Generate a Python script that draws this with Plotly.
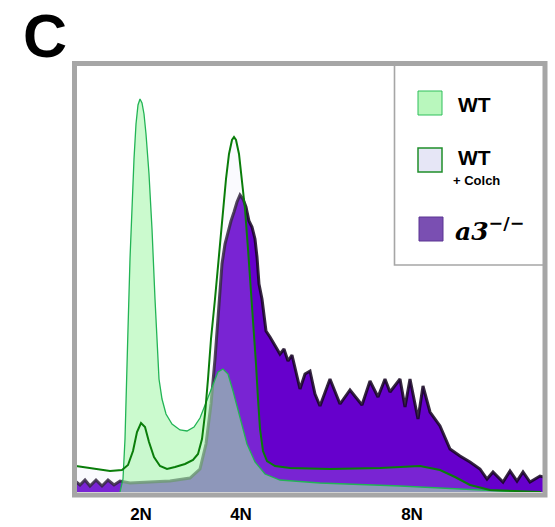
import plotly.graph_objects as go

# ---- data (channel = DNA content a.u., counts = cells) ----
wt_x = [46, 49, 51, 53, 54, 56, 58, 60, 62, 64, 66, 68, 70, 72, 75, 78, 81, 83, 85, 88, 92, 98, 106, 113, 120, 126, 133, 139, 144, 149, 154, 159, 166, 173, 181, 191, 206, 246, 326, 386, 426, 446]
wt_y = [0, 13, 53, 113, 163, 233, 293, 333, 368, 387, 393, 389, 378, 358, 318, 263, 193, 148, 113, 93, 78, 68, 62, 61, 65, 74, 92, 109, 120, 123, 118, 101, 73, 48, 30, 18, 12, 9, 6, 3, 1, 0]

colch_x = [2, 21, 36, 48, 54, 59, 63, 67, 71, 75, 80, 86, 93, 101, 111, 119, 124, 128, 131, 134, 137, 141, 145, 149, 152, 155, 158, 160, 162, 165, 168, 171, 174, 177, 180, 182, 184, 186, 189, 193, 201, 216, 256, 306, 346, 366, 381, 396, 416, 436, 467]
colch_y = [26, 23, 21, 22, 27, 41, 60, 69, 65, 50, 35, 26, 23, 25, 28, 32, 38, 53, 78, 113, 153, 193, 238, 283, 313, 338, 352, 355, 352, 338, 313, 283, 243, 203, 163, 128, 93, 63, 41, 31, 26, 24, 23, 24, 26, 22, 15, 7, 2, 1, 0]

a3_x = [1, 6, 11, 16, 22, 28, 34, 40, 46, 56, 76, 96, 116, 126, 132, 137, 141, 144, 146, 148, 151, 154, 157, 160, 163, 166, 169, 172, 175, 178, 181, 183, 185, 188, 190, 192, 196, 201, 206, 210, 214, 218, 222, 226, 231, 236, 241, 246, 256, 266, 276, 288, 296, 304, 311, 316, 326, 331, 336, 344, 349, 356, 366, 376, 386, 396, 406, 413, 419, 429, 436, 443, 449, 456, 466, 470]
a3_y = [11, 7, 12, 6, 12, 6, 12, 7, 11, 9, 10, 11, 14, 23, 48, 88, 133, 173, 203, 228, 248, 261, 271, 280, 290, 297, 293, 285, 271, 265, 253, 235, 208, 193, 175, 161, 155, 147, 138, 143, 131, 137, 121, 103, 118, 121, 98, 86, 113, 88, 102, 87, 111, 95, 113, 100, 113, 85, 113, 73, 106, 80, 66, 43, 36, 30, 23, 13, 20, 10, 21, 11, 20, 10, 16, 15]

tick_vals = [67, 167, 338]
tick_text = ["2N", "4N", "8N"]
legend_labels = ["WT", "WT", "+ Colch", "a3"]

fig = go.Figure()

# a3-/- histogram (bottom layer)
fig.add_trace(go.Scatter(x=a3_x, y=a3_y, mode="lines", fill="tozeroy",
                         fillcolor="#6600cc",
                         line=dict(color="rgba(20,5,30,0.85)", width=3),
                         showlegend=False, hoverinfo="skip"))
# WT + Colch fill
fig.add_trace(go.Scatter(x=colch_x, y=colch_y, mode="none", fill="tozeroy",
                         fillcolor="rgba(225,225,250,0.16)",
                         showlegend=False, hoverinfo="skip"))
# WT
fig.add_trace(go.Scatter(x=wt_x, y=wt_y, mode="lines", fill="tozeroy",
                         fillcolor="rgba(160,245,165,0.55)",
                         line=dict(color="#22b455", width=1.3),
                         showlegend=False, hoverinfo="skip"))
# WT + Colch line
fig.add_trace(go.Scatter(x=colch_x, y=colch_y, mode="lines",
                         line=dict(color="#0a7d0a", width=2),
                         showlegend=False, hoverinfo="skip"))

W, H = 555, 527
# plot area in page pixels: x 74..544, y 63..492
PL, PR, PT, PB = 74, 544, 63, 492
L, T, R, B = PL, PT, W - PR, H - PB
pw, ph = PR - PL, PB - PT

def px(x):
    return (x - PL) / pw

def py(y):
    return (PB - y) / ph

shapes = []
# legend box
shapes.append(dict(type="rect", xref="paper", yref="paper", x0=px(394.5), x1=px(545), y0=py(265), y1=py(63),
                   fillcolor="white", line=dict(color="#a6a6a6", width=1.6), layer="above"))
# legend icons
shapes.append(dict(type="rect", xref="paper", yref="paper", x0=px(418), x1=px(442), y0=py(115), y1=py(91),
                   fillcolor="#b9f7bd", line=dict(color="#2fbf5a", width=1), layer="above"))
shapes.append(dict(type="rect", xref="paper", yref="paper", x0=px(418), x1=px(442), y0=py(172), y1=py(148),
                   fillcolor="#e6e6f6", line=dict(color="#1f8f2a", width=1.5), layer="above"))
shapes.append(dict(type="rect", xref="paper", yref="paper", x0=px(419), x1=px(443), y0=py(241), y1=py(217),
                   fillcolor="#7a4fb2", line=dict(color="#5b3592", width=1), layer="above"))
# frame
shapes.append(dict(type="rect", xref="paper", yref="paper", x0=px(74.5), x1=px(545), y0=py(495), y1=py(63.5),
                   line=dict(color="#a6a6a6", width=5), layer="above"))

annotations = [
    dict(text="<b>C</b>", x=px(45), y=py(0), xref="paper", yref="paper", showarrow=False,
         font=dict(family="Arial", size=61, color="black"), xanchor="center", yanchor="top"),
    dict(text="<b>" + legend_labels[0] + "</b>", x=px(456), y=py(104), xref="paper", yref="paper", showarrow=False,
         font=dict(family="Arial", size=21, color="black"), xanchor="left", yanchor="middle"),
    dict(text="<b>" + legend_labels[1] + "</b>", x=px(456), y=py(157), xref="paper", yref="paper", showarrow=False,
         font=dict(family="Arial", size=21, color="black"), xanchor="left", yanchor="middle"),
    dict(text="<b>" + legend_labels[2] + "</b>", x=px(451), y=py(180), xref="paper", yref="paper", showarrow=False,
         font=dict(family="Arial", size=13, color="black"), xanchor="left", yanchor="middle"),
    dict(text="<i><b>" + legend_labels[3] + "</b></i><sup><b>\u2212/\u2212</b></sup>", x=px(453), y=py(229),
         xref="paper", yref="paper", showarrow=False,
         font=dict(family="DejaVu Serif", size=25, color="black"), xanchor="left", yanchor="middle"),
]

fig.update_layout(
    width=W, height=H,
    margin=dict(l=L, r=R, t=T, b=B),
    paper_bgcolor="white", plot_bgcolor="white",
    showlegend=False,
    shapes=shapes, annotations=annotations,
    xaxis=dict(range=[0, pw], showgrid=False, zeroline=False, showline=False,
               tickmode="array", tickvals=tick_vals,
               ticktext=["<b>" + t + "</b>" for t in tick_text],
               tickfont=dict(family="Arial", size=17, color="black"), ticks="",
               ticklabelstandoff=10, automargin=False, fixedrange=True),
    yaxis=dict(range=[0, ph], showgrid=False, zeroline=False, showline=False,
               showticklabels=False, automargin=False, fixedrange=True),
)

fig.write_html("out.html", config={"displayModeBar": False},
               post_script="document.body.style.margin='0';document.body.style.overflow='hidden';")
